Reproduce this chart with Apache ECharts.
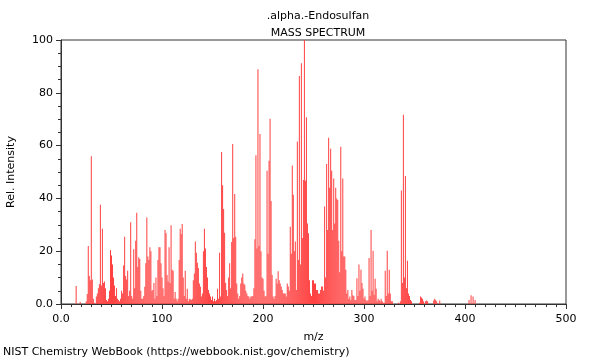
<!DOCTYPE html>
<html>
<head>
<meta charset="utf-8">
<script src="https://cdn.jsdelivr.net/npm/echarts@6/dist/echarts.min.js"></script>
<style>html,body{margin:0;padding:0;background:#fff}#c{width:600px;height:360px}</style>
</head>
<body>
<div id="c"></div>
<script>
const chartTitle = '.alpha.-Endosulfan';
const chartSubtitle = 'MASS SPECTRUM';
const xAxisName = 'm/z';
const yAxisName = 'Rel. Intensity';
const footer = 'NIST Chemistry WebBook (https://webbook.nist.gov/chemistry)';

const mz = [15,19,25,26,27,28,29,30,31,32,33,35,36,37,38,39,40,41,42,43,44,45,46,47,48,49,50,51,52,53,54,55,56,57,58,59,60,61,62,63,64,65,66,67,68,69,70,71,72,73,74,75,76,77,78,79,80,81,82,83,84,85,86,87,88,89,90,91,92,93,94,95,96,97,98,99,100,101,102,103,104,105,106,107,108,109,110,111,112,113,114,115,116,117,118,119,120,121,122,123,124,125,126,127,128,129,130,131,132,133,134,135,136,137,138,139,140,141,142,143,144,145,146,147,148,149,150,151,152,153,154,155,156,157,158,159,160,161,162,163,164,165,166,167,168,169,170,171,172,173,174,175,176,177,178,179,180,181,182,183,184,185,186,187,188,189,190,191,192,193,194,195,196,197,198,199,200,201,202,203,204,205,206,207,208,209,210,211,212,213,214,215,216,217,218,219,220,221,222,223,224,225,226,227,228,229,230,231,232,233,234,235,236,237,238,239,240,241,242,243,244,245,246,247,248,249,250,251,252,253,254,255,256,257,258,259,260,261,262,263,264,265,266,267,268,269,270,271,272,273,274,275,276,277,278,279,280,281,282,283,284,285,286,287,288,289,290,291,292,293,294,295,296,297,298,299,300,301,302,303,304,305,306,307,308,309,310,311,312,313,314,315,316,317,318,319,320,321,322,323,324,325,326,327,328,334,336,337,338,339,340,341,342,343,344,345,346,347,355,356,357,358,359,361,362,363,369,370,371,372,375,404,406,408,410];
const intensity = [6.8,0.8,1,3.8,22,10.6,9,56,9.3,2,0.5,2.8,4,6,7.5,37.6,7,28.5,8,8.5,6,1.5,1,2,5,20.5,18.4,15,10,7,3,6,2,1.5,1,2,5,4,14.6,25.5,10.6,9.3,12.6,3,5,31,3,2,20.7,6,24,34.6,14,17.7,17,5,2,2,3,6.5,15.4,32.8,18,16.7,21.5,20,5,5.3,8,2,10,3,16.7,21.5,21.5,15.4,10,6,3,28,26.8,11,8.5,21.5,8,29.8,13,12.6,2,4.5,2,1,2,16.7,28.5,26.5,30.3,10,3,12.6,2,5.8,1,2,1.8,1.5,2,9,11.6,23.7,19.4,15.6,13.6,7.8,6.5,2.8,4,20,28.5,21,14,10,5.3,4,2.8,1.5,2.8,1,2,1,1.5,5.8,2,19.4,2.8,57.6,45,36,27,8,5.3,3,10,15.4,6,23.5,60.6,25,41.7,25.5,7.8,4,2,3,7.8,10,11.6,7.8,7.3,5,4,3,2.8,2,2.8,2.8,3,6,24.5,56.3,21,88.9,22,64.4,20,10,9.6,5,2.8,3,50.5,19,54.3,70.2,39,11,2.8,2,3,9.6,7.8,12.4,9,7.8,6.6,5.3,4,4,4,2.8,7.8,6.6,5,29.3,19,52.5,41.4,20,23.7,5.3,61.6,16.7,86.4,15,91.2,25,47,100,46.7,70.7,30.5,26.8,9,4,3,9,9,7.8,7.8,5.3,5.3,4,4,5.3,6.6,6.6,5,36.9,10,53,28,63,44,58.8,50.5,28,47.5,30.5,44,40,39.4,24,12,59.6,20,47.5,18,18,13,4,5.3,2,2.8,1.5,5.3,3.3,3,1.5,1.5,9.8,3,15,5,13,8,5.8,2,2.8,1.5,1,1.5,17.4,3,28,5,20.2,3.5,9.6,5.8,1,2,1.5,1,2,1,0.5,0.5,12.6,3,20.2,4,13,4,1,1,0.5,1,43,8,71.7,10,48.5,6,16.4,4,3,1.5,1,0.5,2.8,2.5,2,1,1,1.3,1,1.3,2,1.5,1,1.3,1.5,3.3,2.8,1.5];
const xTicks = [0, 100, 200, 300, 400, 500];
const yTicks = [0, 20, 40, 60, 80, 100];

const peaks = mz.map((m, i) => [m, intensity[i]]);
const FONT = 'DejaVu Sans';
const fmt = v => (v === 0 ? '0.0' : String(v));

const chart = echarts.init(document.getElementById('c'), null, {renderer: 'canvas'});
chart.setOption({
  animation: false,
  backgroundColor: '#fff',
  title: [
    {text: chartTitle, left: 313, top: 6, textAlign: 'center',
     textStyle: {fontFamily: FONT, fontSize: 11, fontWeight: 'normal', color: '#000'}},
    {text: chartSubtitle, left: 313, top: 23, textAlign: 'center',
     textStyle: {fontFamily: FONT, fontSize: 11, fontWeight: 'normal', color: '#000'}}
  ],
  graphic: [{type: 'text', left: 3, top: 347,
    style: {text: footer, font: '11px "DejaVu Sans"', fill: '#000'}}],
  grid: {left: 61, right: 34, top: 40, bottom: 56, outerBoundsMode: 'none', containLabel: false,
    show: true, borderColor: '#333', borderWidth: 1, backgroundColor: 'transparent'},
  xAxis: {
    type: 'value', min: xTicks[0], max: xTicks[xTicks.length - 1], interval: 100,
    name: xAxisName, nameLocation: 'middle', nameGap: 28,
    nameTextStyle: {fontFamily: FONT, fontSize: 11, color: '#000'},
    axisLine: {show: true, onZero: false, lineStyle: {color: '#333'}},
    axisTick: {show: true, length: 5, lineStyle: {color: '#333'}},
    minorTick: {show: true, splitNumber: 10, length: 3, lineStyle: {color: '#333'}},
    axisLabel: {fontFamily: FONT, fontSize: 11, color: '#000', margin: 10, formatter: fmt},
    splitLine: {show: false}
  },
  yAxis: {
    type: 'value', min: yTicks[0], max: yTicks[yTicks.length - 1], interval: 20,
    name: yAxisName, nameLocation: 'middle', nameGap: 44, nameRotate: 90,
    nameTextStyle: {fontFamily: FONT, fontSize: 11, color: '#000'},
    axisLine: {show: true, lineStyle: {color: '#333'}},
    axisTick: {show: true, length: 5, lineStyle: {color: '#333'}},
    minorTick: {show: true, splitNumber: 4, length: 3, lineStyle: {color: '#333'}},
    axisLabel: {fontFamily: FONT, fontSize: 11, color: '#000', margin: 8, formatter: fmt},
    splitLine: {show: false}
  },
  series: [{
    type: 'bar', data: peaks, barWidth: 1, barGap: '-100%',
    itemStyle: {color: '#ff4040'}, large: false
  }]
});
</script>
</body>
</html>
